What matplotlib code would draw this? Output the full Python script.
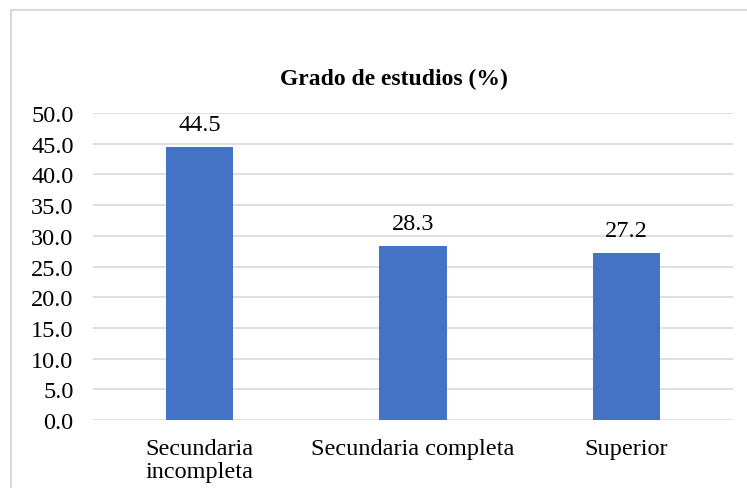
import matplotlib.pyplot as plt
from matplotlib.patches import Rectangle

plt.rcParams['font.family'] = ['Liberation Serif', 'DejaVu Serif']

categories = ["Secundaria\nincompleta", "Secundaria completa", "Superior"]
values = [44.5, 28.3, 27.2]
yticks = [0, 5, 10, 15, 20, 25, 30, 35, 40, 45, 50]


def main():
    fig = plt.figure(figsize=(7.47, 4.89), dpi=100)
    # chart frame (cut off at right and bottom)
    fig.patches.append(Rectangle((11 / 747, -0.1), 1.0, 1.1 - 11 / 489,
                                 transform=fig.transFigure, fill=False,
                                 edgecolor="#d9d9d9", linewidth=1.5))
    ax = fig.add_axes([93 / 747, 1 - 421 / 489, 640 / 747, 307 / 489])
    x = range(len(categories))
    ax.bar(x, values, width=0.315, color="#4472c4", zorder=3)
    for xi, v in zip(x, values):
        ax.annotate(f"{v:.1f}", (xi, v), xytext=(0, 8.5), textcoords="offset points",
                    ha="center", va="bottom", fontsize=17.5)
    ax.set_xlim(-0.5, 2.5)
    ax.set_ylim(0, 50)
    ax.set_yticks(yticks)
    ax.set_yticklabels([f"{t:.1f}" for t in yticks], fontsize=17.5)
    ax.set_xticks(list(x))
    ax.set_xticklabels(categories, fontsize=17.5, linespacing=1.1)
    ax.tick_params(axis="both", length=0)
    ax.tick_params(axis="y", pad=14)
    ax.tick_params(axis="x", pad=13)
    ax.grid(axis="y", color="#d9d9d9", linewidth=1.2, zorder=0)
    for s in ax.spines.values():
        s.set_visible(False)
    fig.text(394 / 747, 1 - 79 / 489, "Grado de estudios (%)", fontsize=17,
             fontweight="bold", ha="center", va="center")
    fig.savefig("out.png", dpi=100)


if __name__ == "__main__":
    main()
